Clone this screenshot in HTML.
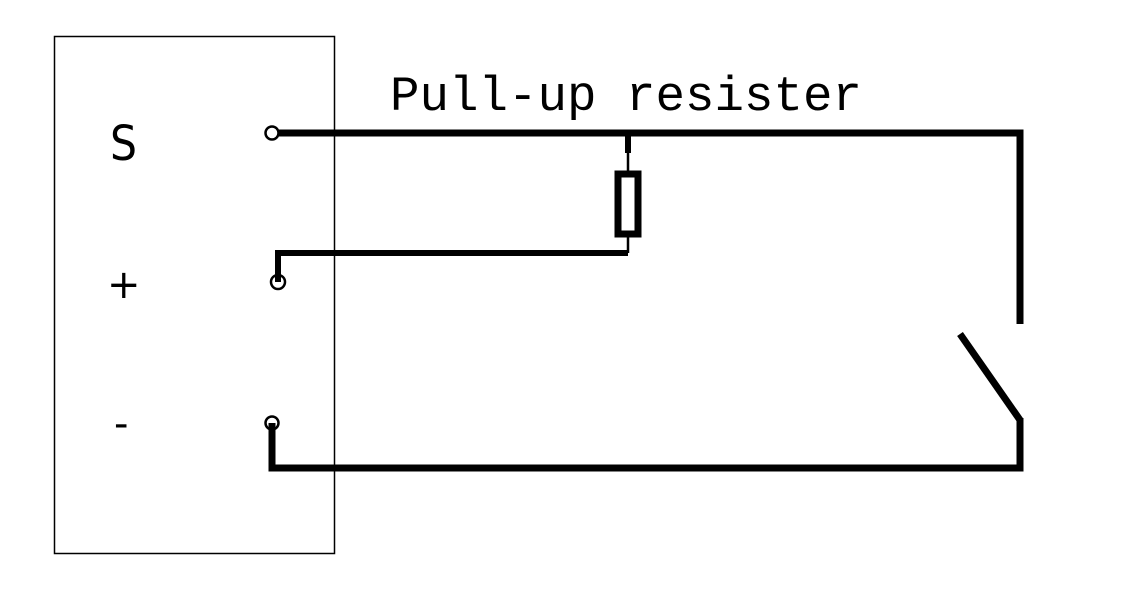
<!DOCTYPE html>
<html><head><style>html,body{margin:0;padding:0;background:#fff;}svg{display:block}</style></head>
<body>
<svg width="1121" height="592" viewBox="0 0 1121 592" xmlns="http://www.w3.org/2000/svg">
<rect x="54.5" y="36.5" width="280" height="517" fill="none" stroke="#000" stroke-width="1.5"/>
<text x="110" y="160" style="font-family:'DejaVu Sans','Liberation Sans',sans-serif" font-size="48" textLength="27" lengthAdjust="spacingAndGlyphs">S</text>
<text x="107" y="298" style="font-family:'DejaVu Sans','Liberation Sans',sans-serif" font-size="40">+</text>
<text x="114" y="437" style="font-family:'DejaVu Sans','Liberation Sans',sans-serif" font-size="40">-</text>
<text x="390" y="110" style="font-family:'Liberation Mono',monospace" font-size="49" textLength="472" lengthAdjust="spacingAndGlyphs">Pull-up resister</text>
<g stroke="#000" fill="none">
<polyline points="278,133 1020,133 1020,324" stroke-width="7"/>
<line x1="628" y1="133" x2="628" y2="153" stroke-width="6"/>
<line x1="628" y1="153" x2="628" y2="172" stroke-width="2.5"/>
<rect x="618" y="174" width="20" height="60" stroke-width="7"/>
<polyline points="628,237 628,253" stroke-width="2.5"/>
<polyline points="628,253 278,253 278,282" stroke-width="6"/>
<line x1="960" y1="334" x2="1020" y2="420" stroke-width="7"/>
<polyline points="1020,418 1020,468 272,468 272,423" stroke-width="7"/>
<circle cx="272" cy="133" r="6.5" stroke-width="2.5" fill="#fff"/>
<circle cx="278" cy="282" r="7" stroke-width="2.5"/>
<circle cx="272" cy="423" r="6.5" stroke-width="2.5"/>
</g>
</svg>
</body></html>
